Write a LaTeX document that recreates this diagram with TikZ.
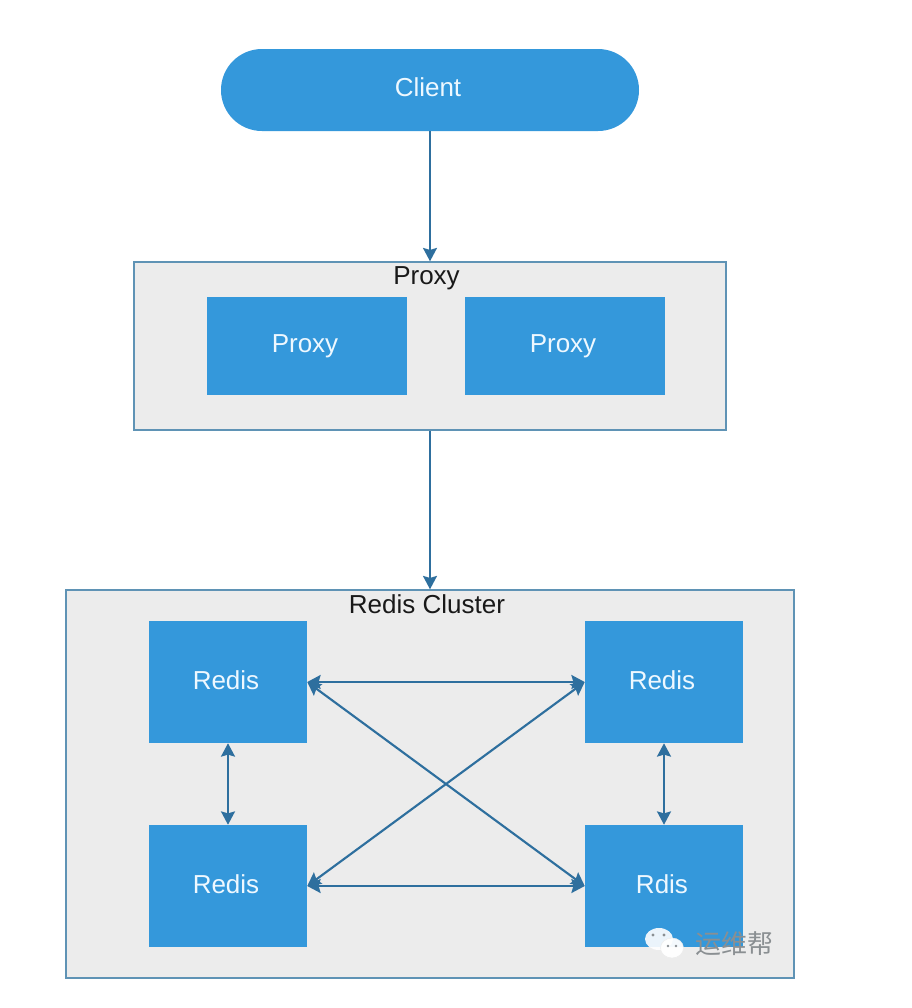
\documentclass[tikz,border=0pt]{standalone}
\usepackage{fontspec}
\setmainfont{Liberation Sans}
\newfontfamily\cjkfont{Noto Sans CJK SC}
\usetikzlibrary{arrows.meta}
\definecolor{boxblue}{HTML}{3498DB}
\definecolor{linkblue}{HTML}{2E6F9E}
\definecolor{groupfill}{HTML}{ECECEC}
\definecolor{groupline}{HTML}{5F93B5}
\definecolor{softwhite}{HTML}{EEF8FF}
\definecolor{markgray}{HTML}{8A8F92}
\tikzset{
  x=0.75pt,y=-0.75pt,
  boxlabel/.style={font=\fontsize{19.5pt}{22pt}\selectfont,text=softwhite,inner sep=0pt},
  blockbox/.style={boxlabel,fill=boxblue,draw=none,minimum width=150pt,minimum height=73.5pt},
  redisbox/.style={boxlabel,fill=boxblue,draw=none,minimum width=118.5pt,minimum height=91.5pt},
  clientbox/.style={boxlabel,fill=boxblue,draw=none,rounded corners=30.7pt,minimum width=313.5pt,minimum height=61.5pt},
  groupbox/.style={fill=groupfill,draw=groupline,line width=1.1pt,inner sep=0pt},
  grouptitle/.style={font=\fontsize{19.5pt}{22pt}\selectfont,text=black!90,inner sep=0pt},
  link/.style={draw=linkblue,line width=1.3pt,-{Stealth[length=10pt,width=10.5pt,inset=1.5pt]}},
  duplex/.style={draw=linkblue,line width=1.6pt,{Stealth[length=10pt,width=10.5pt,inset=1.5pt]}-{Stealth[length=10pt,width=10.5pt,inset=1.5pt]}},
}
\begin{document}
\begin{tikzpicture}
\useasboundingbox (0,0) rectangle (912,1008);
\fill[white] (0,0) rectangle (912,1008);

\node[clientbox] (client) at (430,90) {\raisebox{4pt}{\hspace{-3pt}Client}};

\node[groupbox,minimum width=444pt,minimum height=126pt] (proxygroup) at (430,346) {};
\node[grouptitle] (proxytitle) at (426.5,278) {Proxy};
\node[blockbox] (proxya) at (307,346) {\raisebox{1pt}{\hspace{-3pt}Proxy}};
\node[blockbox] (proxyb) at (565,346) {\raisebox{1pt}{\hspace{-3pt}Proxy}};

\node[groupbox,minimum width=546pt,minimum height=291pt] (redisgroup) at (430,784) {};
\node[grouptitle] (redistitle) at (427,604) {Redis Cluster};
\node[redisbox] (r1) at (228,682) {\raisebox{3pt}{\hspace{-3pt}Redis}};
\node[redisbox] (r2) at (664,682) {\raisebox{3pt}{\hspace{-3pt}Redis}};
\node[redisbox] (r3) at (228,886) {\raisebox{3pt}{\hspace{-3pt}Redis}};
\node[redisbox] (r4) at (664,886) {\raisebox{3pt}{\hspace{-3pt}Rdis}};

\draw[link] (client) -- (proxygroup);
\draw[link] (proxygroup) -- (redisgroup);
\draw[duplex] (r1) -- (r2);
\draw[duplex] (r3) -- (r4);
\draw[duplex] (r1) -- (r3);
\draw[duplex] (r2) -- (r4);
\draw[duplex] (r1.east) -- (r4.west);
\draw[duplex] (r3.east) -- (r2.west);

% watermark
\fill[white,opacity=.9] (659,939) ellipse (14 and 11);
\fill[white,opacity=.95,draw=groupfill] (672,948) ellipse (11.5 and 10);
\fill[markgray] (653,935) circle (1.6) (664,935) circle (1.6) (668,946) circle (1.4) (676,946) circle (1.4);
\node[inner sep=0pt,text=markgray,font=\cjkfont\fontsize{19.5pt}{22pt}\selectfont] (mark) at (734,944) {运维帮};
\end{tikzpicture}
\end{document}
